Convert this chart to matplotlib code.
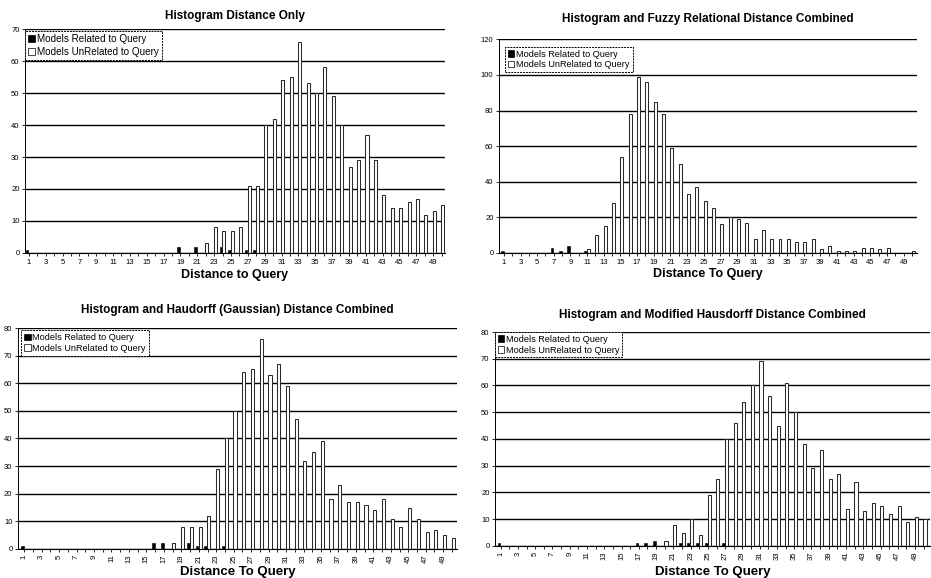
import numpy as np
import matplotlib
matplotlib.use("Agg")
import matplotlib.pyplot as plt
from matplotlib.patches import Patch

plt.rcParams['font.family'] = ['Liberation Sans', 'DejaVu Sans']

distance = list(range(1, 51))

# counts per distance bin, one pair of series per ranking method
hist_related = [1, 0, 0, 0, 0, 0, 0, 0, 0, 0,
                0, 0, 0, 0, 0, 0, 0, 0, 2, 0,
                2, 0, 0, 2, 1, 0, 1, 1, 0, 0,
                0, 0, 0, 0, 0, 0, 0, 0, 0, 0,
                0, 0, 0, 0, 0, 0, 0, 0, 0, 0]
hist_unrelated = [0, 0, 0, 0, 0, 0, 0, 0, 0, 0,
                  0, 0, 0, 0, 0, 0, 0, 0, 0, 0,
                  0, 3, 8, 7, 7, 8, 21, 21, 40, 42,
                  54, 55, 66, 53, 50, 58, 49, 40, 27, 29,
                  37, 29, 18, 14, 14, 16, 17, 12, 13, 15]

fuzzy_related = [1, 0, 0, 0, 0, 0, 3, 1, 4, 0,
                 1, 0, 0, 0, 0, 0, 0, 0, 0, 0,
                 0, 0, 0, 0, 0, 0, 0, 0, 0, 0,
                 0, 0, 0, 0, 0, 0, 0, 0, 0, 0,
                 0, 0, 0, 0, 0, 0, 0, 0, 0, 0]
fuzzy_unrelated = [0, 0, 0, 0, 0, 0, 0, 0, 0, 0,
                   2, 10, 15, 28, 54, 78, 99, 96, 85, 78,
                   59, 50, 33, 37, 29, 25, 16, 20, 19, 17,
                   8, 13, 8, 8, 8, 6, 6, 8, 2, 4,
                   1, 1, 1, 3, 3, 2, 3, 0, 0, 1]

gauss_related = [1, 0, 0, 0, 0, 0, 0, 0, 0, 0,
                 0, 0, 0, 0, 0, 2, 2, 0, 0, 2,
                 1, 1, 0, 1, 0, 0, 0, 0, 0, 0,
                 0, 0, 0, 0, 0, 0, 0, 0, 0, 0,
                 0, 0, 0, 0, 0, 0, 0, 0, 0, 0]
gauss_unrelated = [0, 0, 0, 0, 0, 0, 0, 0, 0, 0,
                   0, 0, 0, 0, 0, 0, 0, 2, 8, 8,
                   8, 12, 29, 40, 50, 64, 65, 76, 63, 67,
                   59, 47, 32, 35, 39, 18, 23, 17, 17, 16,
                   14, 18, 11, 8, 15, 11, 6, 7, 5, 4]

modh_related = [1, 0, 0, 0, 0, 0, 0, 0, 0, 0,
                0, 0, 0, 0, 0, 0, 1, 1, 2, 0,
                0, 1, 1, 1, 1, 0, 1, 0, 0, 0,
                0, 0, 0, 0, 0, 0, 0, 0, 0, 0,
                0, 0, 0, 0, 0, 0, 0, 0, 0, 0]
modh_unrelated = [0, 0, 0, 0, 0, 0, 0, 0, 0, 0,
                  0, 0, 0, 0, 0, 0, 0, 0, 0, 2,
                  8, 5, 10, 4, 19, 25, 40, 46, 54, 60,
                  69, 56, 45, 61, 50, 38, 29, 36, 25, 27,
                  14, 24, 13, 16, 15, 12, 15, 9, 11, 10]


def histogram_panel(fig, rect, related, unrelated, title, xlabel, ymax, ystep,
                    xlim, rotate, title_y, xlabel_y, legend_anchor,
                    xlabel_size=9, legend_size=6.6, legend_gap=0.2):
    ax = fig.add_axes(rect)
    x = np.array(distance)
    ax.bar(x - 0.2, related, width=0.32, color='black', edgecolor='black', lw=0.4)
    ax.bar(x + 0.15, unrelated, width=0.36, color='white', edgecolor='#2a2a2a', lw=0.75)
    ax.set_ylim(0, ymax)
    ax.set_xlim(*xlim)
    ax.set_yticks(np.arange(0, ymax + 1, ystep))
    ax.yaxis.grid(True, color='black', lw=1.0)
    ax.set_axisbelow(True)
    ax.set_xticks(x)
    ax.set_xticklabels([str(d) if d % 2 == 1 else '' for d in distance],
                       rotation=90 if rotate else 0)
    ax.tick_params(axis='both', labelsize=5.5, length=2, width=0.6, pad=2)
    for s in ['top', 'right']:
        ax.spines[s].set_visible(False)
    ax.spines['left'].set_linewidth(0.7)
    ax.spines['left'].set_linestyle((0, (2, 1)))
    ax.spines['bottom'].set_linewidth(0.8)

    ax.text(0.5, title_y, title, transform=ax.transAxes, ha='center', va='center',
            fontsize=8.5, fontweight='bold')
    ax.text(0.5, xlabel_y, xlabel, transform=ax.transAxes, ha='center', va='center',
            fontsize=xlabel_size, fontweight='bold')

    handles = [Patch(facecolor='black', edgecolor='black', lw=0.5),
               Patch(facecolor='white', edgecolor='black', lw=0.5)]
    leg = ax.legend(handles, ['Models Related to Query', 'Models UnRelated to Query'],
                    loc='upper left', bbox_to_anchor=legend_anchor, fontsize=legend_size,
                    frameon=True, fancybox=False, framealpha=1, edgecolor='black',
                    handlelength=0.7, handleheight=0.7, handletextpad=0.2,
                    borderpad=0.3, labelspacing=legend_gap, borderaxespad=0)
    leg.get_frame().set_linewidth(0.7)
    leg.get_frame().set_linestyle((0, (2, 1)))
    return ax


fig = plt.figure(figsize=(9.31, 5.78), dpi=100)

histogram_panel(fig, [0.0269, 0.5623, 0.451, 0.3875], hist_related, hist_unrelated,
                'Histogram Distance Only', 'Distance to Query', 70, 10,
                (0.55, 50.4), False, 1.06, -0.1, (0.0, 0.99),
                legend_size=7.1, legend_gap=0.3)
histogram_panel(fig, [0.536, 0.5623, 0.449, 0.3697], fuzzy_related, fuzzy_unrelated,
                'Histogram and Fuzzy Relational Distance Combined', 'Distance To Query', 120, 20,
                (0.42, 50.6), False, 1.095, -0.1, (0.015, 0.965))
histogram_panel(fig, [0.0193, 0.0502, 0.4715, 0.3823], gauss_related, gauss_unrelated,
                'Histogram and Haudorff (Gaussian) Distance Combined', 'Distance To Query', 80, 10,
                (0.29, 50.57), True, 1.08, -0.105, (0.008, 0.99), xlabel_size=9.5)
histogram_panel(fig, [0.5317, 0.0554, 0.467, 0.3702], modh_related, modh_unrelated,
                'Histogram and Modified Hausdorff Distance Combined', 'Distance To Query', 80, 10,
                (0.35, 50.7), True, 1.08, -0.12, (0.0, 1.0), xlabel_size=9.5)

fig.savefig('out.png', dpi=100)
